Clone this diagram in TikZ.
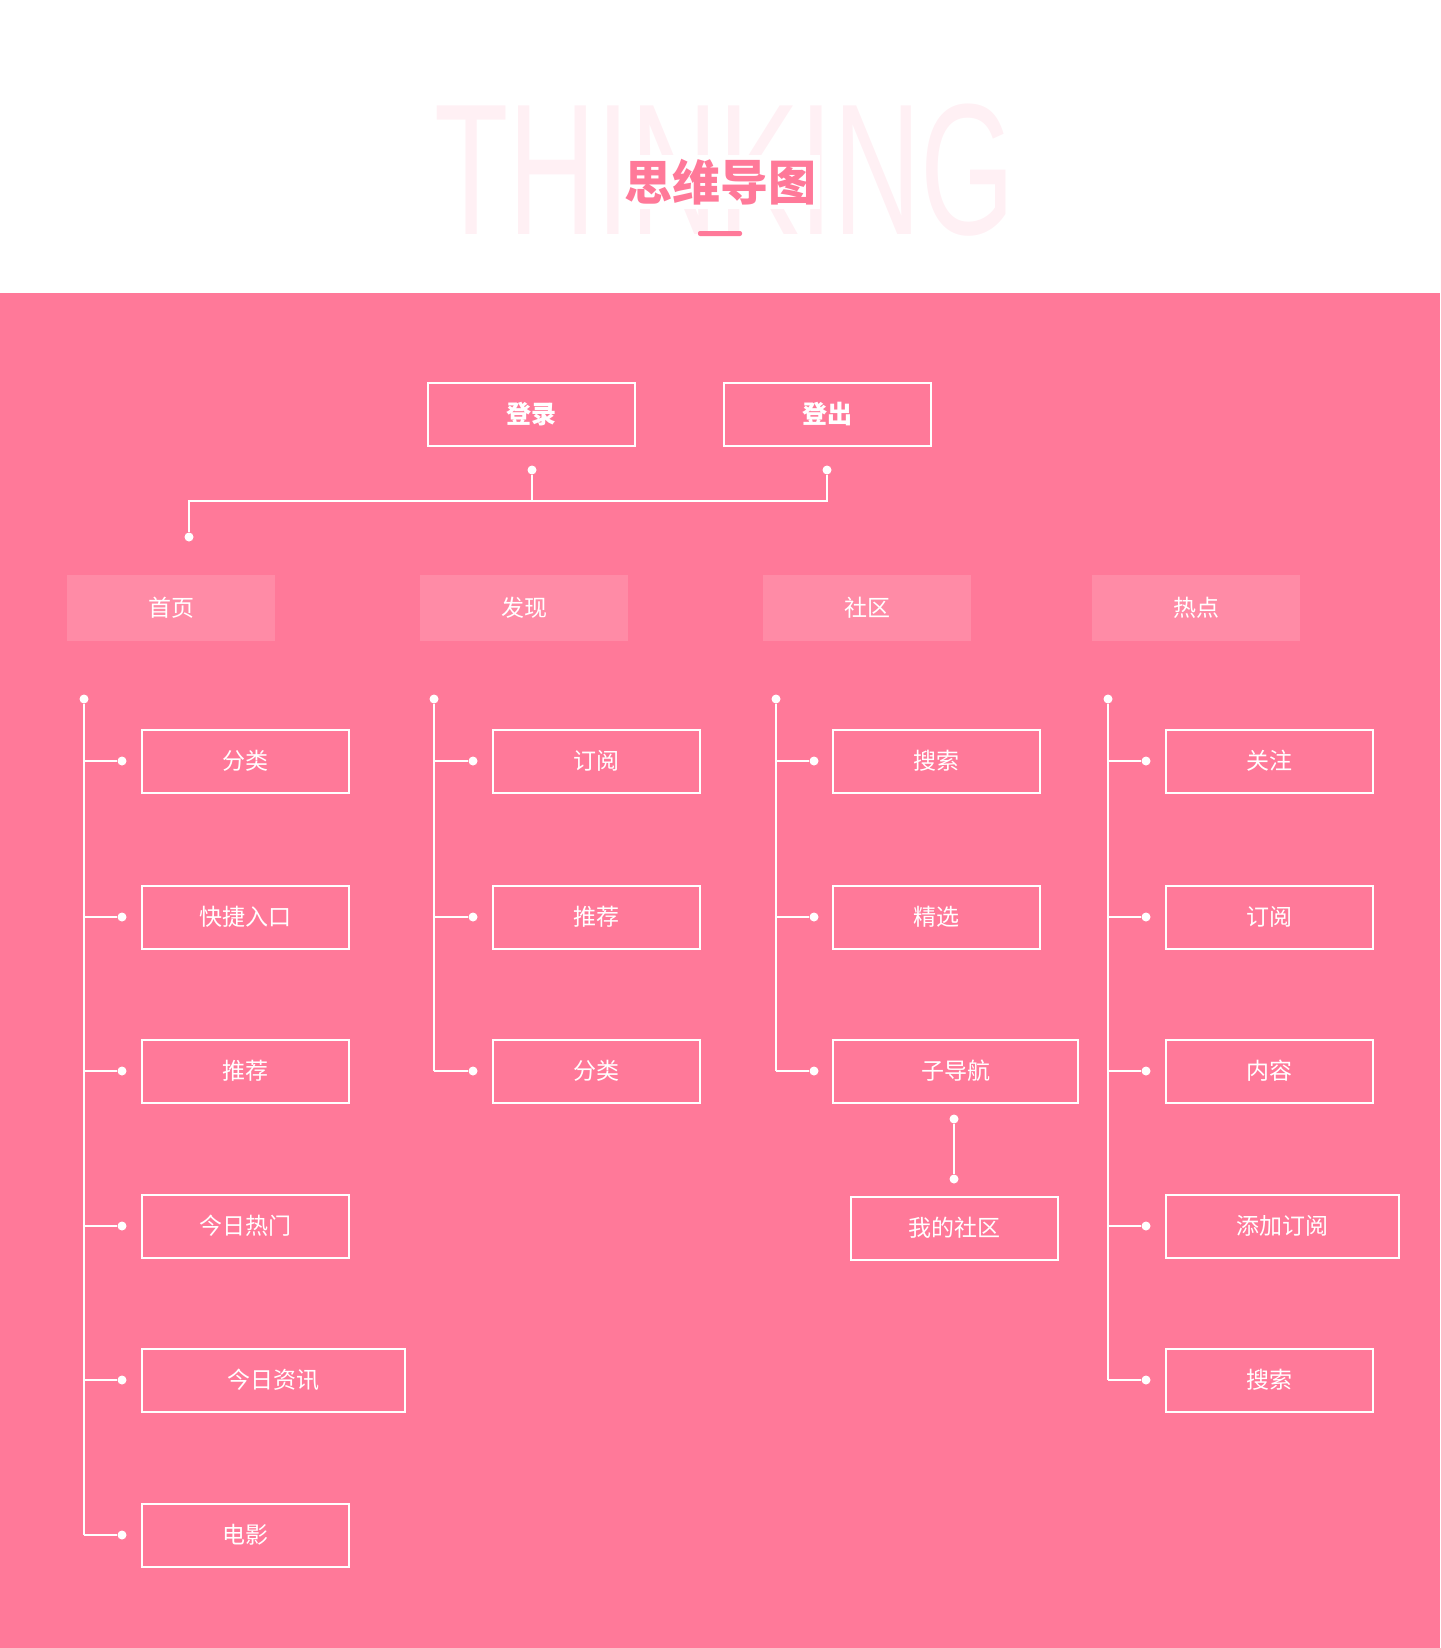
\documentclass[tikz,border=0pt]{standalone}
\usepackage{fontspec}
\setmainfont{Liberation Sans}
\newfontfamily\cjk{Noto Sans CJK SC}
\usetikzlibrary{positioning}
\definecolor{pinkbg}{RGB}{255,121,153}
\definecolor{headcol}{RGB}{255,139,166}
\definecolor{markcol}{RGB}{255,240,244}
\tikzset{
  link/.style={draw=white,line width=2pt},
  dot/.style={circle,fill=white,minimum size=9pt,inner sep=0pt},
  topbox/.style={draw=white,line width=2pt,minimum width=207pt,minimum height=63pt,inner sep=0pt,
    text=white,font=\cjk\bfseries\fontsize{25}{25}\selectfont},
  headbox/.style={fill=headcol,minimum width=208pt,minimum height=66pt,inner sep=0pt,
    text=white,font=\cjk\fontsize{23}{23}\selectfont},
  leafbox/.style={draw=white,line width=2pt,minimum height=63pt,inner sep=0pt,anchor=west,
    text=white,font=\cjk\fontsize{23}{23}\selectfont}
}
\begin{document}
\begin{tikzpicture}[x=1pt,y=-1pt]
\useasboundingbox (0,0) rectangle (1440,1648);
% ---- head ----
\fill[pinkbg] (0,293) rectangle (1440,1648);
\node[inner sep=0pt,text=markcol,font=\fontsize{187}{187}\selectfont] (mark) at (725,170)
  {\scalebox{0.65}[1]{THINKING}};
\node[fill=white,inner sep=4pt,text=pinkbg,font=\cjk\bfseries\fontsize{48}{48}\selectfont] (title) at (720,182) {思维导图};
\fill[pinkbg,rounded corners=2pt] (698,231) rectangle (742,236);
% ---- login / logout ----
\node[topbox] (login) at (531,414) {登录};
\node[topbox] (logout) at (827,414) {登出};
\node[dot] (loginD) at (532,470) {};
\node[dot] (logoutD) at (827,470) {};
\node[dot] (homeUp) at (189,537) {};
\coordinate (bus) at (532,501);
\draw[link] (logoutD) -- (logoutD |- bus) -- (homeUp |- bus) -- (homeUp);
\draw[link] (loginD) -- (loginD |- bus);
% ---- headers ----
\foreach \n/\x/\t in {home/171/首页,find/524/发现,club/867/社区,hot/1196/热点}{
  \node[headbox] (\n) at (\x,608) {\t};}
% ---- home ----
\node[dot] (homeT) at (84,699) {};
\foreach \i/\y/\t/\w in {1/761/分类/207,2/917/快捷入口/207,3/1071/推荐/207,4/1226/今日热门/207,5/1380/今日资讯/263,6/1535/电影/207}{
  \node[dot] (homeD\i) at (122,\y) {};
  \node[leafbox,minimum width=\w pt] (home\i) at (141,\y) {\t};
  \draw[link] (homeD\i) -- (homeD\i -| homeT);}
\draw[link] (homeT) -- (homeT |- homeD6);
% ---- find ----
\node[dot] (findT) at (434,699) {};
\foreach \i/\y/\t/\w in {1/761/订阅/207,2/917/推荐/207,3/1071/分类/207}{
  \node[dot] (findD\i) at (473,\y) {};
  \node[leafbox,minimum width=\w pt] (find\i) at (492,\y) {\t};
  \draw[link] (findD\i) -- (findD\i -| findT);}
\draw[link] (findT) -- (findT |- findD3);
% ---- club ----
\node[dot] (clubT) at (776,699) {};
\foreach \i/\y/\t/\w in {1/761/搜索/207,2/917/精选/207,3/1071/子导航/245}{
  \node[dot] (clubD\i) at (814,\y) {};
  \node[leafbox,minimum width=\w pt] (club\i) at (832,\y) {\t};
  \draw[link] (clubD\i) -- (clubD\i -| clubT);}
\draw[link] (clubT) -- (clubT |- clubD3);
\node[dot] (subA) at (954,1119) {};
\node[dot] (subB) at (954,1179) {};
\node[leafbox,anchor=center,minimum width=207pt] (mine) at (954,1228) {我的社区};
\draw[link] (subA) -- (subB);
% ---- hot ----
\node[dot] (hotT) at (1108,699) {};
\foreach \i/\y/\t/\w in {1/761/关注/207,2/917/订阅/207,3/1071/内容/207,4/1226/添加订阅/233,5/1380/搜索/207}{
  \node[dot] (hotD\i) at (1146,\y) {};
  \node[leafbox,minimum width=\w pt] (hot\i) at (1165,\y) {\t};
  \draw[link] (hotD\i) -- (hotD\i -| hotT);}
\draw[link] (hotT) -- (hotT |- hotD5);
\end{tikzpicture}
\end{document}
